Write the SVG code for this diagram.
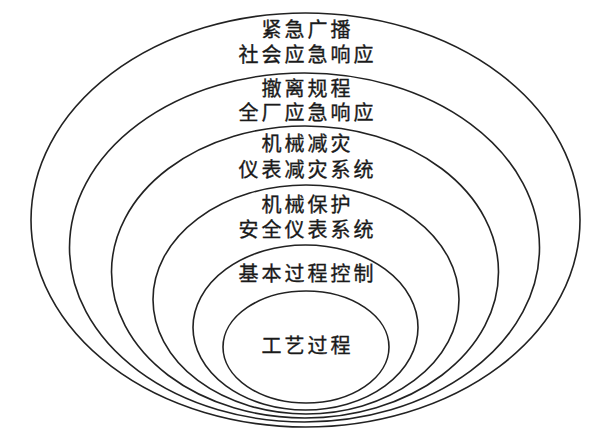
<svg xmlns="http://www.w3.org/2000/svg" width="596" height="439" viewBox="0 0 596 439">
<style>
.ring{fill:none;stroke:#222;stroke-width:1.6}
.t{font-family:"Noto Sans CJK SC","Noto Sans CJK JP",sans-serif;font-size:20px;fill:#1a1a1a;stroke:#1a1a1a;stroke-width:0.35;text-anchor:middle;letter-spacing:3px}
</style>
<rect width="596" height="439" fill="#fff"/>
<g id="layer1">
<ellipse class="ring" cx="305.5" cy="220" rx="274.5" ry="207"/>
<text class="t" x="307.5" y="37">紧急广播</text>
<text class="t" x="307.5" y="62">社会应急响应</text>
</g>
<g id="layer2">
<ellipse class="ring" cx="304.5" cy="247.5" rx="235" ry="174.5"/>
<text class="t" x="307.5" y="96">撤离规程</text>
<text class="t" x="307.5" y="120">全厂应急响应</text>
</g>
<g id="layer3">
<ellipse class="ring" cx="305" cy="272" rx="193.5" ry="146"/>
<text class="t" x="307.5" y="151">机械减灾</text>
<text class="t" x="307.5" y="177">仪表减灾系统</text>
</g>
<g id="layer4">
<ellipse class="ring" cx="306" cy="299.5" rx="153" ry="114.5"/>
<text class="t" x="307.5" y="212">机械保护</text>
<text class="t" x="307.5" y="237">安全仪表系统</text>
</g>
<g id="layer5">
<ellipse class="ring" cx="305.5" cy="327.5" rx="112.5" ry="82.5"/>
<text class="t" x="307.5" y="281">基本过程控制</text>
</g>
<g id="layer6">
<ellipse class="ring" cx="306" cy="347" rx="83" ry="56"/>
<text class="t" x="307.5" y="353">工艺过程</text>
</g>
<g id="connectors"></g>
</svg>
